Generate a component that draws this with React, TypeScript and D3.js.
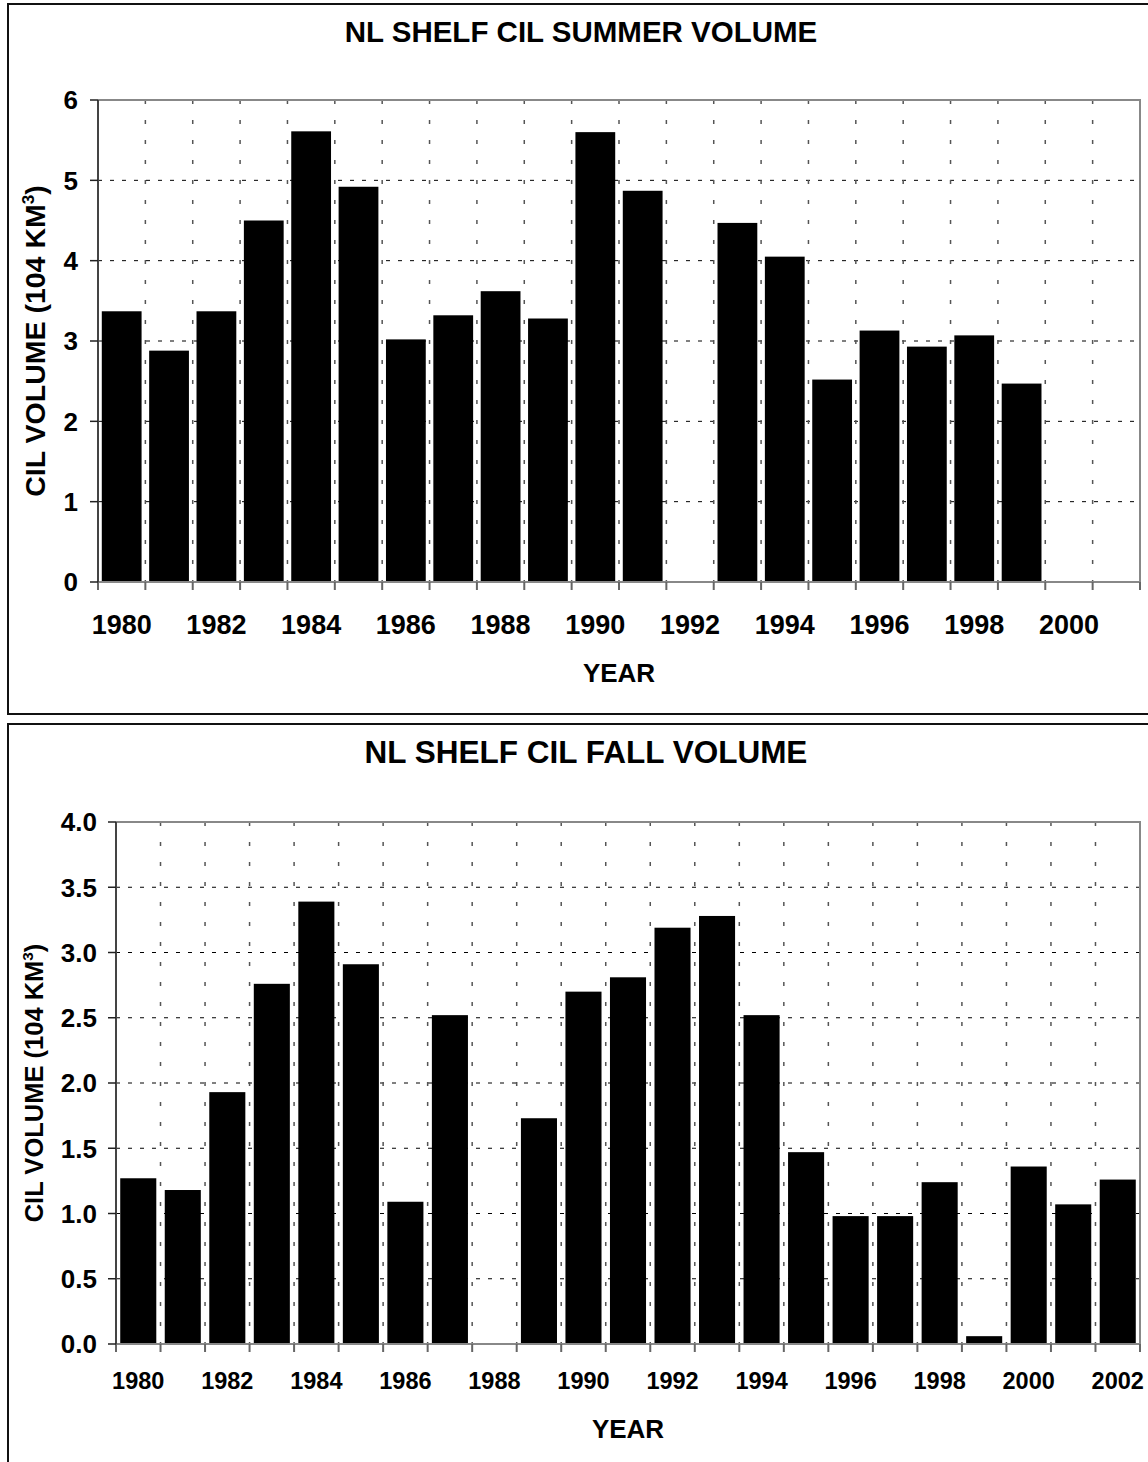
import { useEffect, useRef } from 'react'
import * as d3 from 'd3'

// Summer CIL volume (10^4 km^3), null = no survey
const summerYears = [1980, 1981, 1982, 1983, 1984, 1985, 1986, 1987, 1988, 1989, 1990,
  1991, 1992, 1993, 1994, 1995, 1996, 1997, 1998, 1999, 2000, 2001]
const summerVolume = [3.37, 2.88, 3.37, 4.5, 5.61, 4.92, 3.02, 3.32, 3.62, 3.28, 5.6,
  4.87, null, 4.47, 4.05, 2.52, 3.13, 2.93, 3.07, 2.47, null, null]
const summerTicks = [0, 1, 2, 3, 4, 5, 6]
const summerYearLabels = [1980, 1982, 1984, 1986, 1988, 1990, 1992, 1994, 1996, 1998, 2000]

// Fall CIL volume
const fallYears = [1980, 1981, 1982, 1983, 1984, 1985, 1986, 1987, 1988, 1989, 1990,
  1991, 1992, 1993, 1994, 1995, 1996, 1997, 1998, 1999, 2000, 2001, 2002]
const fallVolume = [1.27, 1.18, 1.93, 2.76, 3.39, 2.91, 1.09, 2.52, null, 1.73, 2.7,
  2.81, 3.19, 3.28, 2.52, 1.47, 0.98, 0.98, 1.24, 0.06, 1.36, 1.07, 1.26]
const fallTicks = [0, 0.5, 1, 1.5, 2, 2.5, 3, 3.5, 4]
const fallYearLabels = [1980, 1982, 1984, 1986, 1988, 1990, 1992, 1994, 1996, 1998, 2000, 2002]

interface PanelSpec {
  title: string
  years: number[]
  values: (number | null)[]
  ticks: number[]
  yearLabels: number[]
  tickFormat: (v: number) => string
  box: { x: number; y: number; w: number; h: number }
  plot: { left: number; top: number; right: number; bottom: number }
  titleY: number
  titleX: number
  titleSize: number
  yLabelX: number
  yLabelSize: number
  yTickEnd: number
  yTickSize: number
  xTickY: number
  xTickSize: number
  xLabelY: number
  barPad: number
}

const panels: PanelSpec[] = [
  {
    title: 'NL SHELF CIL SUMMER VOLUME',
    years: summerYears,
    values: summerVolume,
    ticks: summerTicks,
    yearLabels: summerYearLabels,
    tickFormat: d3.format('d'),
    box: { x: 8, y: 4, w: 1160, h: 710 },
    plot: { left: 98, top: 100, right: 1140, bottom: 582 },
    titleY: 42,
    titleX: 581,
    titleSize: 29.5,
    yLabelX: 45,
    yLabelSize: 28.5,
    yTickEnd: 78,
    yTickSize: 26,
    xTickY: 634,
    xTickSize: 27,
    xLabelY: 682,
    barPad: 0.16
  },
  {
    title: 'NL SHELF CIL FALL VOLUME',
    years: fallYears,
    values: fallVolume,
    ticks: fallTicks,
    yearLabels: fallYearLabels,
    tickFormat: d3.format('.1f'),
    box: { x: 8, y: 724, w: 1160, h: 760 },
    plot: { left: 116, top: 822, right: 1140, bottom: 1344 },
    titleY: 763,
    titleX: 586,
    titleSize: 31.5,
    yLabelX: 43,
    yLabelSize: 25.5,
    yTickEnd: 97,
    yTickSize: 26,
    xTickY: 1389,
    xTickSize: 23.5,
    xLabelY: 1438,
    barPad: 0.19
  }
]

export default function App() {
  const svgRef = useRef<SVGSVGElement>(null)

  useEffect(() => {
    if (!svgRef.current) return
    const svg = d3.select(svgRef.current)
    svg.selectAll('*').remove()

    panels.forEach(p => {
      const g = svg.append('g')
      const font = 'Liberation Sans, Arial, sans-serif'

      // panel frame
      g.append('rect')
        .attr('x', p.box.x)
        .attr('y', p.box.y)
        .attr('width', p.box.w)
        .attr('height', p.box.h)
        .attr('fill', 'white')
        .attr('stroke', '#111')
        .attr('stroke-width', 2)

      const x = d3.scaleBand<number>()
        .domain(p.years)
        .range([p.plot.left, p.plot.right])
        .paddingInner(0)
        .paddingOuter(0)

      const y = d3.scaleLinear()
        .domain([p.ticks[0], p.ticks[p.ticks.length - 1]])
        .range([p.plot.bottom, p.plot.top])

      // horizontal grid
      g.selectAll('.hgrid')
        .data(p.ticks.slice(1, -1))
        .enter().append('line')
        .attr('x1', p.plot.left)
        .attr('x2', p.plot.right)
        .attr('y1', d => y(d))
        .attr('y2', d => y(d))
        .attr('stroke', '#000')
        .attr('stroke-width', 1)
        .attr('stroke-dasharray', '4,8')

      // vertical grid at category boundaries
      g.selectAll('.vgrid')
        .data(p.years.slice(1))
        .enter().append('line')
        .attr('x1', d => x(d)!)
        .attr('x2', d => x(d)!)
        .attr('y1', p.plot.top)
        .attr('y2', p.plot.bottom)
        .attr('stroke', '#555')
        .attr('stroke-width', 1.5)
        .attr('stroke-dasharray', '4,16')

      // bars
      const bw = x.bandwidth()
      g.selectAll('.bar')
        .data(p.years.map((yr, i) => ({ yr, v: p.values[i] })).filter(d => d.v !== null))
        .enter().append('rect')
        .attr('x', d => x(d.yr)! + bw * p.barPad / 2)
        .attr('width', bw * (1 - p.barPad))
        .attr('y', d => y(d.v as number))
        .attr('height', d => p.plot.bottom - y(d.v as number))
        .attr('fill', '#000')

      // plot frame: top and right gray
      g.append('path')
        .attr('d', `M${p.plot.left},${p.plot.top}H${p.plot.right}V${p.plot.bottom}`)
        .attr('fill', 'none')
        .attr('stroke', '#888')
        .attr('stroke-width', 2)

      // x axis
      g.append('line')
        .attr('x1', p.plot.left)
        .attr('x2', p.plot.right)
        .attr('y1', p.plot.bottom)
        .attr('y2', p.plot.bottom)
        .attr('stroke', '#888')
        .attr('stroke-width', 2)

      const boundaries = p.years.map(d => x(d)!).concat([p.plot.right])
      g.selectAll('.xtick')
        .data(boundaries)
        .enter().append('line')
        .attr('x1', d => d)
        .attr('x2', d => d)
        .attr('y1', p.plot.bottom)
        .attr('y2', p.plot.bottom + 8)
        .attr('stroke', '#666')
        .attr('stroke-width', 2)

      g.selectAll('.xlabel')
        .data(p.yearLabels)
        .enter().append('text')
        .attr('x', d => x(d)! + bw / 2)
        .attr('y', p.xTickY)
        .attr('text-anchor', 'middle')
        .attr('font-family', font)
        .attr('font-weight', 'bold')
        .attr('font-size', p.xTickSize)
        .text(d => String(d))

      // y axis
      g.append('line')
        .attr('x1', p.plot.left)
        .attr('x2', p.plot.left)
        .attr('y1', p.plot.top)
        .attr('y2', p.plot.bottom)
        .attr('stroke', '#444')
        .attr('stroke-width', 2)

      g.selectAll('.ytick')
        .data(p.ticks)
        .enter().append('line')
        .attr('x1', p.plot.left - 8)
        .attr('x2', p.plot.left)
        .attr('y1', d => y(d))
        .attr('y2', d => y(d))
        .attr('stroke', '#222')
        .attr('stroke-width', 1.5)

      g.selectAll('.ylabel')
        .data(p.ticks)
        .enter().append('text')
        .attr('x', p.yTickEnd)
        .attr('y', d => y(d))
        .attr('dy', '0.36em')
        .attr('text-anchor', 'end')
        .attr('font-family', font)
        .attr('font-weight', 'bold')
        .attr('font-size', p.yTickSize)
        .text(d => p.tickFormat(d))

      // title
      g.append('text')
        .attr('x', p.titleX)
        .attr('y', p.titleY)
        .attr('text-anchor', 'middle')
        .attr('font-family', font)
        .attr('font-weight', 'bold')
        .attr('font-size', p.titleSize)
        .text(p.title)

      // axis titles
      g.append('text')
        .attr('x', (p.plot.left + p.plot.right) / 2)
        .attr('y', p.xLabelY)
        .attr('text-anchor', 'middle')
        .attr('font-family', font)
        .attr('font-weight', 'bold')
        .attr('font-size', 26)
        .text('YEAR')

      const yl = g.append('text')
        .attr('transform', `translate(${p.yLabelX},${(p.plot.top + p.plot.bottom) / 2}) rotate(-90)`)
        .attr('text-anchor', 'middle')
        .attr('font-family', font)
        .attr('font-weight', 'bold')
        .attr('font-size', p.yLabelSize)
      yl.append('tspan').text('CIL VOLUME (104 KM')
      yl.append('tspan').attr('dy', -p.yLabelSize * 0.4).attr('font-size', p.yLabelSize * 0.6).text('3')
      yl.append('tspan').attr('dy', p.yLabelSize * 0.4).text(')')
    })
  }, [])

  return (
    <div style={{ position: 'absolute', left: 0, top: 0, width: 1148, height: 1462, overflow: 'hidden', background: 'white' }}>
      <svg ref={svgRef} width={1148} height={1462} />
    </div>
  )
}
